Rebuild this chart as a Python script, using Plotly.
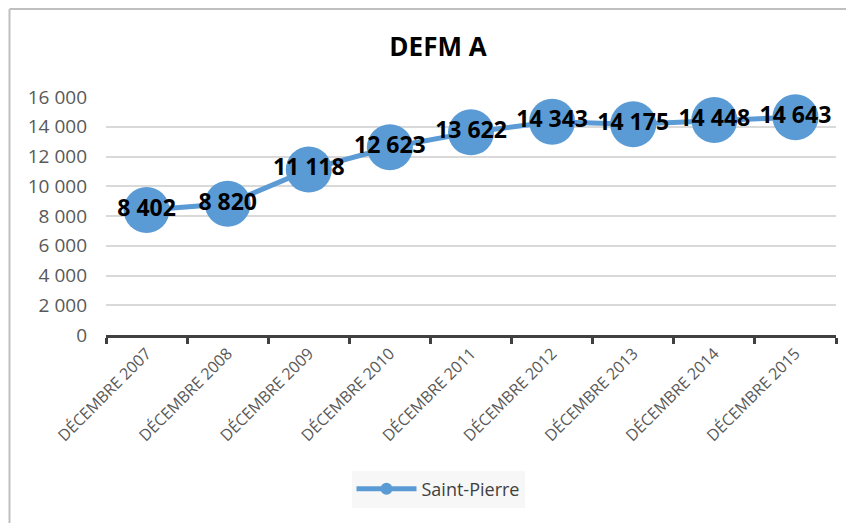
import plotly.graph_objects as go

categories = ["DÉCEMBRE 2007", "DÉCEMBRE 2008", "DÉCEMBRE 2009", "DÉCEMBRE 2010",
              "DÉCEMBRE 2011", "DÉCEMBRE 2012", "DÉCEMBRE 2013", "DÉCEMBRE 2014",
              "DÉCEMBRE 2015"]
values = [8402, 8820, 11118, 12623, 13622, 14343, 14175, 14448, 14643]
labels = ["8 402", "8 820", "11 118", "12 623", "13 622", "14 343", "14 175", "14 448", "14 643"]
series_name = "Saint-Pierre"
title = "DEFM A"
ytick_vals = [0, 2000, 4000, 6000, 8000, 10000, 12000, 14000, 16000]

blue = "#5B9BD5"

fig = go.Figure()
fig.add_trace(go.Scatter(
    x=categories, y=values, name=series_name,
    mode="lines+markers+text",
    line=dict(color=blue, width=5),
    marker=dict(color=blue, size=46),
    text=labels, textposition="middle center",
    textfont=dict(family="Open Sans", size=23, color="black", weight="bold"),
    cliponaxis=False,
))

OFF = 8  # page body margin offset
W, H = 854 - OFF, 523 - OFF
L, R, T, B = 106 - OFF, 854 - 836, 97 - OFF, 523 - 335
pw, ph = W - L - R, H - T - B

def px_x(x):
    return (x - OFF - L) / pw

def px_y(y):
    return (H - B - (y - OFF)) / ph

fig.update_layout(
    width=W, height=H,
    margin=dict(l=L, r=R, t=T, b=B, autoexpand=False),
    paper_bgcolor="white", plot_bgcolor="white",
    separators=", ",
    title=dict(text="<b>" + title + "</b>", x=(438 - OFF) / W, xanchor="center",
               y=1 - (47 - OFF) / H, yanchor="middle",
               font=dict(family="Open Sans", size=26, color="black")),
    showlegend=True,
    legend=dict(orientation="h", x=px_x(438), xanchor="center",
                y=px_y(489), yanchor="middle",
                bgcolor="#F7F7F7", font=dict(family="Open Sans", size=18, color="#404040"),
                itemsizing="constant", itemwidth=60),
    xaxis=dict(type="category", tickson="boundaries", ticks="outside", ticklen=6,
               tickwidth=3, tickcolor="#404040", showline=True, linecolor="#404040",
               linewidth=3, showgrid=False, tickangle=-45,
               tickfont=dict(family="Open Sans", size=16, color="#595959"),
               range=[-0.5, 8.5]),
    yaxis=dict(range=[0, 16000], tickvals=ytick_vals, tickformat=",d",
               showgrid=True, gridcolor="#D9D9D9", gridwidth=2, zeroline=False,
               showline=False, ticks="", ticklen=0, ticklabelstandoff=18,
               tickfont=dict(family="Open Sans", size=19, color="#595959")),
    shapes=[
        dict(type="line", xref="paper", yref="paper", x0=px_x(9.5), x1=px_x(860),
             y0=px_y(9), y1=px_y(9), line=dict(color="#BFBFBF", width=2)),
        dict(type="line", xref="paper", yref="paper", x0=px_x(9.5), x1=px_x(9.5),
             y0=px_y(9), y1=px_y(530), line=dict(color="#BFBFBF", width=2)),
    ],
)

fig.write_html("out.html")
